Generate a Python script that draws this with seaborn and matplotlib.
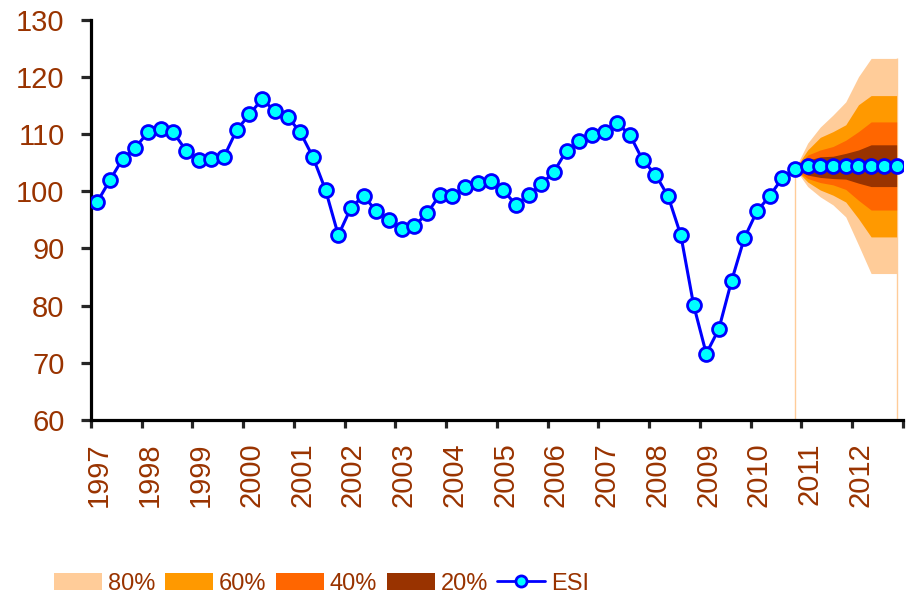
import numpy as np
import pandas as pd
import matplotlib
matplotlib.use("Agg")
import matplotlib.pyplot as plt
import matplotlib.transforms as mtransforms
from matplotlib.patches import Patch
from matplotlib.lines import Line2D
import seaborn as sns

# ESI, kwartalnie 1997Q1 - 2012Q4 (prognoza plaska od 2011)
quarters = pd.period_range("1997Q1", "2012Q4", freq="Q")
esi = [98.1, 101.9, 105.6, 107.6,
       110.3, 110.8, 110.3, 107.1,
       105.5, 105.6, 106.0, 110.7,
       113.4, 116.1, 114.0, 113.0,
       110.3, 106.0, 100.2, 92.3,
       97.1, 99.2, 96.5, 94.9,
       93.4, 93.9, 96.1, 99.3,
       99.2, 100.8, 101.4, 101.8,
       100.2, 97.6, 99.3, 101.2,
       103.4, 107.1, 108.7, 109.8,
       110.3, 111.9, 109.8, 105.4,
       102.9, 99.1, 92.3, 80.1,
       71.6, 75.9, 84.3, 91.8,
       96.5, 99.1, 102.3, 103.9,
       104.4, 104.4, 104.4, 104.4,
       104.4, 104.4, 104.4, 104.4]

# wachlarz: od 2010Q4 do 2012Q4
fan_quarters = pd.period_range("2010Q4", "2012Q4", freq="Q")
upper80 = [103.9, 108.4, 111.2, 113.3, 115.6, 120.0, 123.2, 123.2, 123.2]
upper60 = [103.9, 107.2, 109.4, 110.4, 111.6, 115.1, 116.7, 116.7, 116.7]
upper40 = [103.9, 106.3, 107.2, 107.8, 108.9, 110.4, 112.1, 112.1, 112.1]
upper20 = [103.9, 105.4, 106.0, 106.1, 106.6, 107.2, 108.1, 108.1, 108.1]
lower20 = [103.9, 102.8, 102.4, 102.2, 102.1, 101.4, 100.8, 100.8, 100.8]
lower40 = [103.9, 102.2, 101.5, 101.1, 100.3, 98.4, 96.7, 96.7, 96.7]
lower60 = [103.9, 101.6, 100.2, 99.3, 98.1, 95.2, 92.0, 92.0, 92.0]
lower80 = [103.9, 100.8, 99.0, 97.6, 95.5, 90.6, 85.6, 85.6, 85.6]

band_labels = ["80%", "60%", "40%", "20%"]
band_colors = ["#FFCC99", "#FF9900", "#FF6600", "#993300"]
years = list(range(1997, 2014))
brown = "#993300"

def mid(periods):
    return periods.start_time + (periods.end_time - periods.start_time) / 2

x = mid(quarters)
xf = mid(fan_quarters)

sns.set_style("ticks")
plt.rcParams["font.family"] = ["Liberation Sans", "DejaVu Sans"]

fig = plt.figure(figsize=(9.22, 6.02), dpi=100)
ax = fig.add_axes([0.0987, 0.3023, 0.8807, 0.6653])

# linie pionowe na poczatku i koncu prognozy
ax.vlines([xf[0], xf[-1]], 60, [upper20[0], upper80[-1]], color="#FFCC99", lw=1, zorder=0.5)

bands = [(lower80, upper80), (lower60, upper60), (lower40, upper40), (lower20, upper20)]
for (lo, hi), c in zip(bands, band_colors):
    ax.fill_between(xf, lo, hi, color=c, lw=0, zorder=1)

sns.lineplot(x=x, y=esi, ax=ax, color="#0000FF", lw=2.2, marker="o", ms=10,
             markerfacecolor="#00FFFF", markeredgecolor="#0000FF", markeredgewidth=2,
             zorder=3, legend=False)

ax.set_xlim(pd.Timestamp("1997-01-01"), pd.Timestamp("2013-01-01"))
ax.set_ylim(60, 130)
ax.set_yticks(range(60, 131, 10))
ax.set_xticks([pd.Timestamp(f"{y}-01-01") for y in years])
ax.set_xticklabels([str(y) if y < 2013 else "" for y in years], rotation=90, ha="center", va="top")
ax.set_xlabel("")
ax.set_ylabel("")

for s in ["top", "right"]:
    ax.spines[s].set_visible(False)
for s in ["left", "bottom"]:
    ax.spines[s].set_linewidth(2.3)
    ax.spines[s].set_color("black")

ax.tick_params(axis="y", length=7, width=2.3, pad=12, labelsize=21, labelcolor=brown)
ax.tick_params(axis="x", length=6, width=2.3, pad=10, labelsize=21, labelcolor=brown)

offset = mtransforms.ScaledTranslation(8 / 100, 0, fig.dpi_scale_trans)
for lab in ax.get_xticklabels():
    lab.set_transform(lab.get_transform() + offset)

handles = [Patch(facecolor=c, edgecolor="none") for c in band_colors]
handles.append(Line2D([], [], color="#0000FF", lw=2, marker="o", ms=8,
                      markerfacecolor="#00FFFF", markeredgecolor="#0000FF", markeredgewidth=2))
leg = fig.legend(handles, band_labels + ["ESI"], loc="center", bbox_to_anchor=(0.349, 0.03),
                 ncol=5, frameon=False, fontsize=17, handlelength=2.03, handleheight=0.76,
                 handletextpad=0.25, columnspacing=0.4, borderaxespad=0)
for t in leg.get_texts():
    t.set_color(brown)

fig.savefig("out.png", dpi=100)
